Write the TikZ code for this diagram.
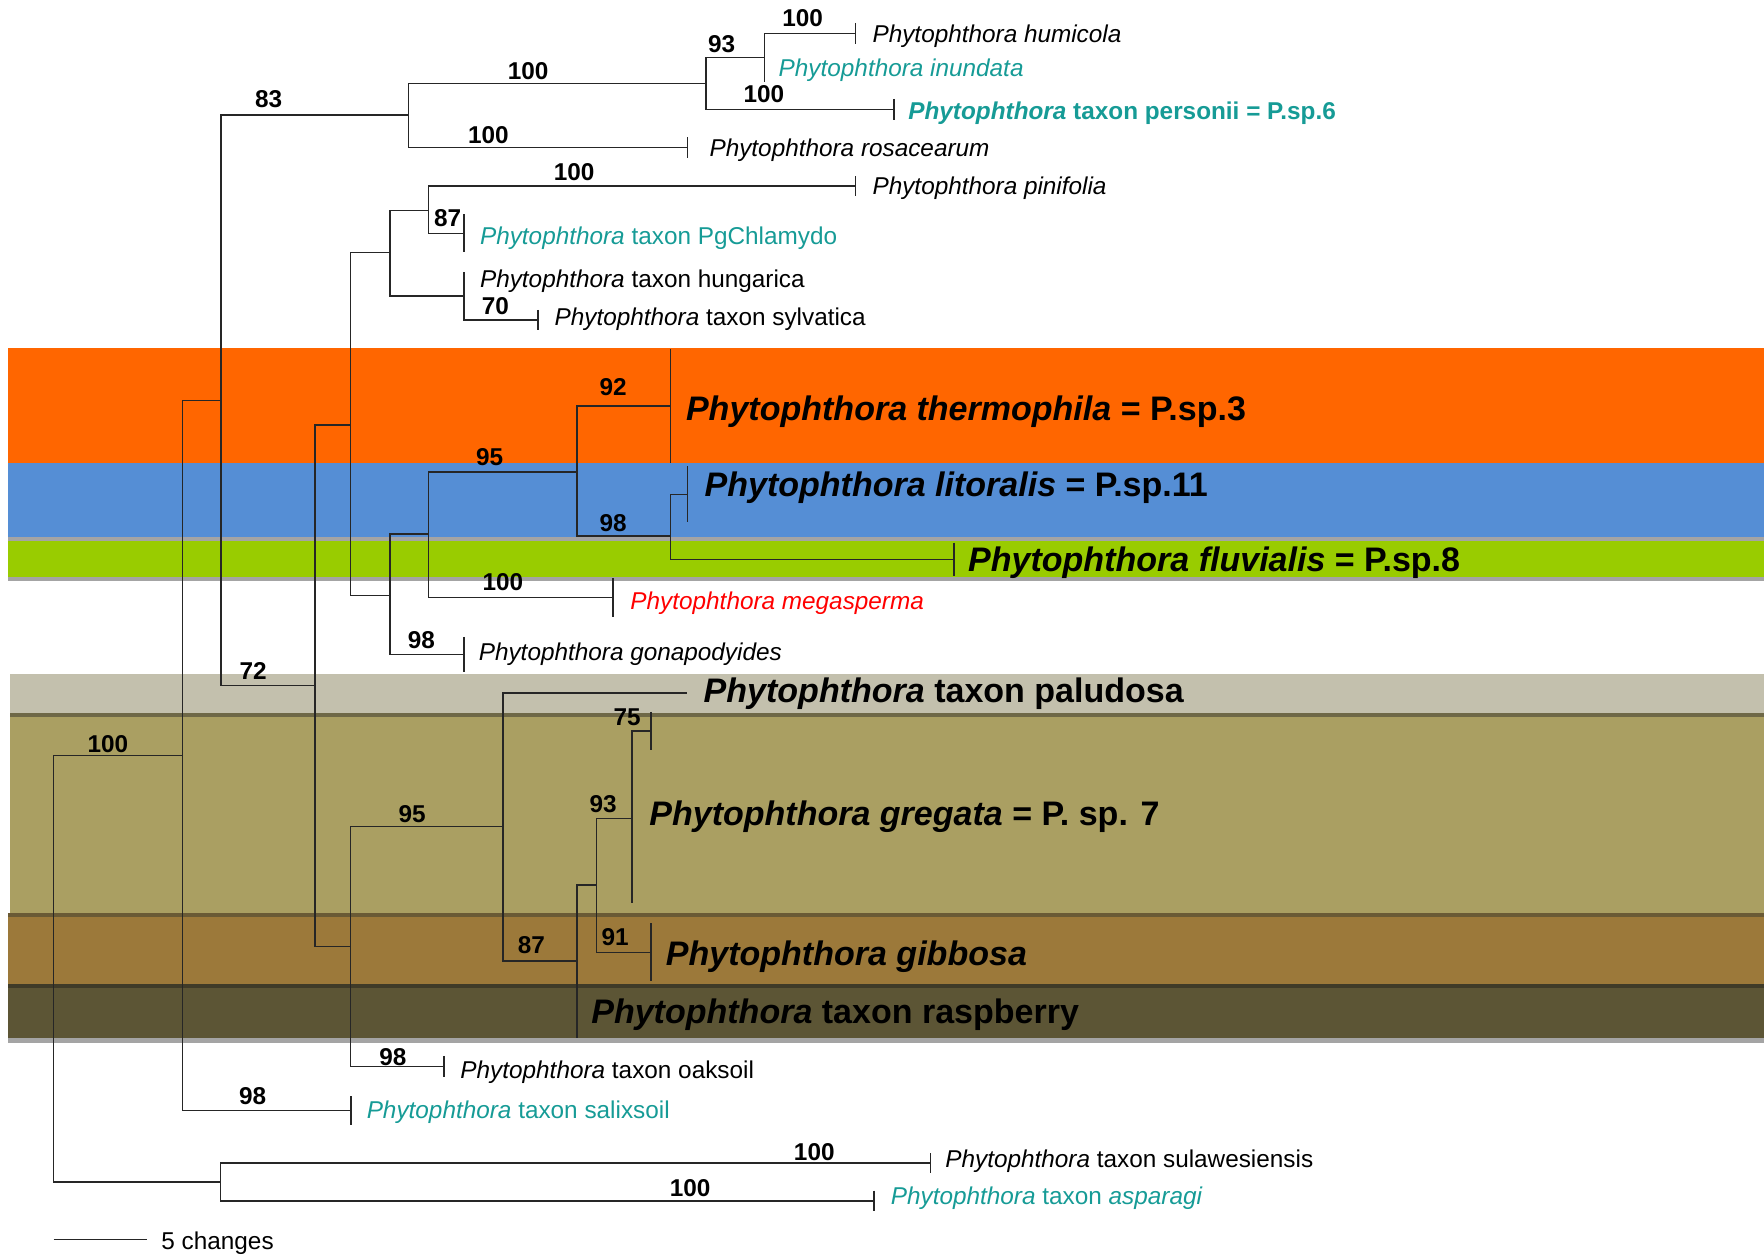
\documentclass[tikz,border=0pt]{standalone}
\usepackage{fontspec}
\setmainfont{Liberation Sans}
\usetikzlibrary{positioning}

\definecolor{orangeband}{HTML}{FF6600}
\definecolor{blueband}{HTML}{558ED5}
\definecolor{greenband}{HTML}{99CC00}
\definecolor{paludband}{HTML}{C3C0AD}
\definecolor{gregband}{HTML}{AA9F62}
\definecolor{gibband}{HTML}{9C793A}
\definecolor{raspband}{HTML}{5C5535}
\definecolor{stripgrey}{HTML}{A4A4A4}
\definecolor{stripolive}{HTML}{6E6847}
\definecolor{stripbrown}{HTML}{6A5A35}
\definecolor{stripdark}{HTML}{3F3B28}
\definecolor{tealname}{HTML}{169B96}
\definecolor{redname}{HTML}{FF0000}

\begin{document}
\begin{tikzpicture}[x=0.01cm, y=-0.01cm, line width=0.35pt,
    branch/.style={draw=black!85},
    boot/.style={font=\fontsize{6.15}{7}\selectfont\bfseries, inner sep=0pt},
    taxon/.style={font=\fontsize{6.15}{7}\selectfont, anchor=base west, inner sep=0pt, yshift=-0.015cm},
    clade/.style={font=\fontsize{8.6}{10}\selectfont\bfseries, anchor=base west, inner sep=0pt, yshift=-0.015cm}]

    \useasboundingbox (0,0) rectangle (1568,1115);

    % BANDS
    \fill[orangeband] (7,309.6) rectangle (1568,411.3);
    \fill[blueband]   (7,411.3) rectangle (1568,477);
    \fill[stripgrey]  (7,477)   rectangle (1568,480.6);
    \fill[greenband]  (7,480.6) rectangle (1568,513.2);
    \fill[stripgrey]  (7,513.2) rectangle (1568,516.2);
    \fill[paludband]  (9,599.1) rectangle (1568,634);
    \fill[stripolive] (9,634)   rectangle (1568,637);
    \fill[gregband]   (9,637)   rectangle (1568,811.9);
    \fill[stripbrown] (7,811.9) rectangle (1568,815.4);
    \fill[gibband]    (7,815.4) rectangle (1568,874.7);
    \fill[stripdark]  (7,874.7) rectangle (1568,878.2);
    \fill[raspband]   (7,878.2) rectangle (1568,923);
    \fill[stripgrey]  (7,923)   rectangle (1568,927);

    % INTERNAL NODES
    \coordinate (root)  at (47.6,861.2);
    \coordinate (nA)    at (162.2,671.7);
    \coordinate (nB)    at (196.5,356);
    \coordinate (nout)  at (196,1050.7);
    \coordinate (n83)   at (363.3,102.2);
    \coordinate (n100t) at (627.7,74);
    \coordinate (n93)   at (679.6,51);
    \coordinate (n72)   at (280.1,609.5);
    \coordinate (nC)    at (311.8,377.8);
    \coordinate (nD)    at (311.8,841.5);
    \coordinate (nE)    at (346.5,224.3);
    \coordinate (nF)    at (346.5,529.5);
    \coordinate (n87)   at (380.7,187.3);
    \coordinate (nG)    at (412.3,263.1);
    \coordinate (n95)   at (380.7,474.7);
    \coordinate (nH)    at (512.8,419.6);
    \coordinate (nI)    at (596,476.4);
    \coordinate (n95b)  at (447,734.8);
    \coordinate (n87b)  at (512.8,854.2);
    \coordinate (nJ)    at (530.2,786.7);
    \coordinate (n93b)  at (561.8,727.4);

    % TIPS
    \coordinate (hum)   at (760.4,29.6);
    \coordinate (inun)  at (679.6,72.6);
    \coordinate (pers)  at (794.8,97.2);
    \coordinate (ros)   at (611.3,131.3);
    \coordinate (pin)   at (760.4,165.3);
    \coordinate (pgc)   at (412.3,207.4);
    \coordinate (hung)  at (412.3,241.5);
    \coordinate (syl)   at (478.1,284.4);
    \coordinate (therm) at (596,360.9);
    \coordinate (lit)   at (611.3,439.4);
    \coordinate (fluv)  at (848,497.2);
    \coordinate (mega)  at (545,531);
    \coordinate (gona)  at (412.3,581.6);
    \coordinate (palu)  at (610.3,616);
    \coordinate (greg)  at (578.7,649.8);
    \coordinate (gregb) at (561.8,803);
    \coordinate (gib)   at (578.7,846.5);
    \coordinate (rasp)  at (512.8,923);
    \coordinate (oak)   at (394.5,948.1);
    \coordinate (salix) at (311.9,987.3);
    \coordinate (sula)  at (827,1033.8);
    \coordinate (aspa)  at (777,1067.6);

    % BRANCHES
    \draw[branch] (root) |- (nA) (root) |- (nout);
    \draw[branch] (nA) |- (nB) (nA) |- (salix);
    \draw[branch] (nB) |- (n83) (nB) |- (n72);
    \draw[branch] (n83) |- (n100t) (n83) |- (ros);
    \draw[branch] (n100t) |- (n93) (n100t) |- (pers);
    \draw[branch] (n93) |- (hum) (n93) |- (inun);
    \draw[branch] (n72) |- (nC) (n72) |- (nD);
    \draw[branch] (nC) |- (nE) (nC) |- (nF);
    \draw[branch] (nE) |- (n87) (nE) |- (nG);
    \draw[branch] (n87) |- (pin) (n87) |- (pgc);
    \draw[branch] (nG) |- (hung) (nG) |- (syl);
    \draw[branch] (nF) |- (n95) (nF) |- (gona);
    \draw[branch] (n95) |- (nH) (n95) |- (mega);
    \draw[branch] (nH) |- (therm) (nH) |- (nI);
    \draw[branch] (nI) |- (lit) (nI) |- (fluv);
    \draw[branch] (nD) |- (n95b) (nD) |- (oak);
    \draw[branch] (n95b) |- (palu) (n95b) |- (n87b);
    \draw[branch] (n87b) |- (nJ) (n87b) |- (rasp);
    \draw[branch] (nJ) |- (n93b) (nJ) |- (gib);
    \draw[branch] (n93b) |- (greg) (n93b) |- (gregb);
    \draw[branch] (nout) |- (sula) (nout) |- (aspa);

    % tip bars
    \foreach \t/\h in {hum/9.2, pers/9.4, ros/9.4, pin/8.5, pgc/16.8, syl/8.9, therm/50.8,
                       lit/25, fluv/14.8, mega/17.2, gona/15.6, greg/17, gib/25.8,
                       oak/9.5, salix/13, sula/8.9, aspa/9.2}
        \draw[branch] (\t) ++(0,-\h) -- ++(0,2*\h);

    % BOOTSTRAP VALUES
    \node[boot] (b1)  at (713.5,16.3)  {100};
    \node[boot] (b2)  at (641.4,39.4)  {93};
    \node[boot] (b3)  at (469.4,63.1)  {100};
    \node[boot] (b4)  at (679,83.6)    {100};
    \node[boot] (b5)  at (238.8,88)    {83};
    \node[boot] (b6)  at (434.2,120)   {100};
    \node[boot] (b7)  at (510.3,152.6) {100};
    \node[boot] (b8)  at (398,194)     {87};
    \node[boot] (b9)  at (440.4,272)   {70};
    \node[boot] (b10) at (545,344.3)   {92};
    \node[boot] (b11) at (435.3,405.9) {95};
    \node[boot] (b12) at (545,464.6)   {98};
    \node[boot] (b13) at (447,517.6)   {100};
    \node[boot] (b14) at (374.6,568.9) {98};
    \node[boot] (b15) at (225,596.2)   {72};
    \node[boot] (b16) at (557.5,637.6) {75};
    \node[boot] (b17) at (95.9,661.3)  {100};
    \node[boot] (b18) at (366.4,723.9) {95};
    \node[boot] (b19) at (536.1,715)   {93};
    \node[boot] (b20) at (546.8,832.6) {91};
    \node[boot] (b21) at (472.3,840)   {87};
    \node[boot] (b22) at (349.2,939.9) {98};
    \node[boot] (b23) at (224.6,973.9) {98};
    \node[boot] (b24) at (723.8,1023.7) {100};
    \node[boot] (b25) at (613.5,1055.7) {100};

    % TAXA
    \node[taxon] (t-hum)  at (775,36.1)   {\textit{Phytophthora humicola}};
    \node[taxon, text=tealname] (t-inun) at (691.6,66.7) {\textit{Phytophthora inundata}};
    \node[taxon, text=tealname, font=\fontsize{6.15}{7}\selectfont\bfseries] (t-pers) at (806.8,104.3)
        {\textit{Phytophthora} taxon personii = P.sp.6};
    \node[taxon] (t-ros)  at (630.1,137.8) {\textit{Phytophthora rosacearum}};
    \node[taxon] (t-pin)  at (775,171.3)   {\textit{Phytophthora pinifolia}};
    \node[taxon, text=tealname] (t-pgc) at (426.1,215.7) {\textit{Phytophthora} taxon PgChlamydo};
    \node[taxon] (t-hung) at (426.1,254.2) {\textit{Phytophthora} taxon hungarica};
    \node[taxon] (t-syl)  at (492.4,287.4) {\textit{Phytophthora} taxon sylvatica};
    \node[clade] (t-therm) at (609.2,372)  {\textit{Phytophthora thermophila} = P.sp.3};
    \node[clade] (t-lit)   at (625.7,440)  {\textit{Phytophthora litoralis} = P.sp.11};
    \node[clade] (t-fluv)  at (860,506.7)  {\textit{Phytophthora fluvialis} = P.sp.8};
    \node[taxon, text=redname] (t-mega) at (559.8,540.7) {\textit{Phytophthora megasperma}};
    \node[taxon] (t-gona) at (425,585.2)   {\textit{Phytophthora gonapodyides}};
    \node[clade] (t-palu)  at (624.9,622.8) {\textit{Phytophthora} taxon paludosa};
    \node[clade] (t-greg)  at (576.6,731.9) {\textit{Phytophthora gregata} = P. sp. 7};
    \node[clade] (t-gib)   at (591.3,856.3) {\textit{Phytophthora gibbosa}};
    \node[clade] (t-rasp)  at (525,908.1)   {\textit{Phytophthora} taxon raspberry};
    \node[taxon] (t-oak)  at (408.7,957)   {\textit{Phytophthora} taxon oaksoil};
    \node[taxon, text=tealname] (t-salix) at (325.4,992.6) {\textit{Phytophthora} taxon salixsoil};
    \node[taxon] (t-sula) at (839.7,1036.2) {\textit{Phytophthora} taxon sulawesiensis};
    \node[taxon, text=tealname] (t-aspa) at (791.3,1069.6) {\textit{Phytophthora} taxon \textit{asparagi}};

    % SCALE BAR
    \coordinate (sb1) at (47.6,1102);
    \coordinate (sb2) at (131,1102);
    \draw[branch] (sb1) -- (sb2);
    \node[taxon] (sb-lab) at (142.9,1109.6) {5 changes};

\end{tikzpicture}
\end{document}
